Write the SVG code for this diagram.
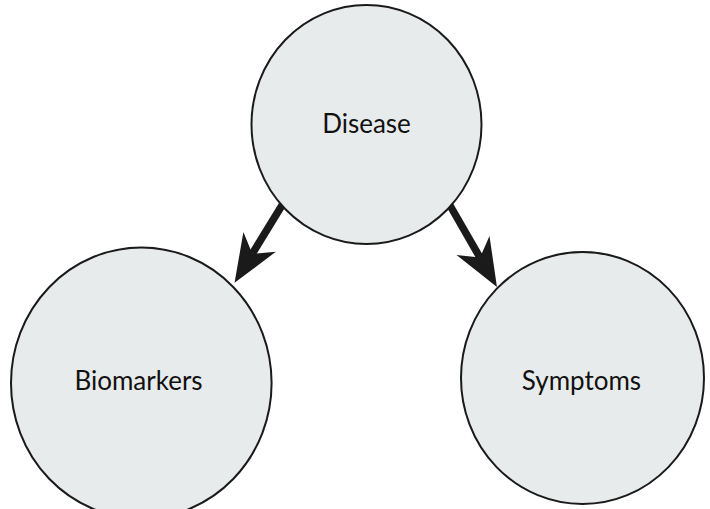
<svg xmlns="http://www.w3.org/2000/svg" width="710" height="509" viewBox="0 0 710 509">
  <style>
    .node { fill: #e8ebec; stroke: #1a1a1a; stroke-width: 2; }
    .label { font-family: Lato, "Liberation Sans", sans-serif; font-size: 26px; fill: #111; text-anchor: middle; }
    .edge { stroke: #1a1a1a; stroke-width: 7.5; fill: none; }
  </style>
  <defs>
    <marker id="stealth" markerUnits="userSpaceOnUse" viewBox="-50 -22 52 44" refX="-34" refY="0" markerWidth="52" markerHeight="44" orient="auto">
      <path d="M0,0 L-48,-19 L-34,0 L-48,19 Z" fill="#1a1a1a"/>
    </marker>
  </defs>
  <rect width="710" height="509" fill="#ffffff"/>

  <g id="edges">
    <line class="edge" x1="284" y1="202" x2="252.3" y2="253.8" marker-end="url(#stealth)"/>
    <line class="edge" x1="448" y1="202" x2="480" y2="257.6" marker-end="url(#stealth)"/>
  </g>

  <g id="disease">
    <ellipse class="node" cx="366.5" cy="124.5" rx="115" ry="119.5"/>
    <text class="label" x="366.5" y="133">Disease</text>
  </g>

  <g id="biomarkers">
    <ellipse class="node" cx="141.3" cy="383" rx="130.3" ry="135.5"/>
    <text class="label" x="138.5" y="390">Biomarkers</text>
  </g>

  <g id="symptoms">
    <ellipse class="node" cx="582.5" cy="378" rx="121.5" ry="126"/>
    <text class="label" x="581.5" y="390">Symptoms</text>
  </g>
</svg>
